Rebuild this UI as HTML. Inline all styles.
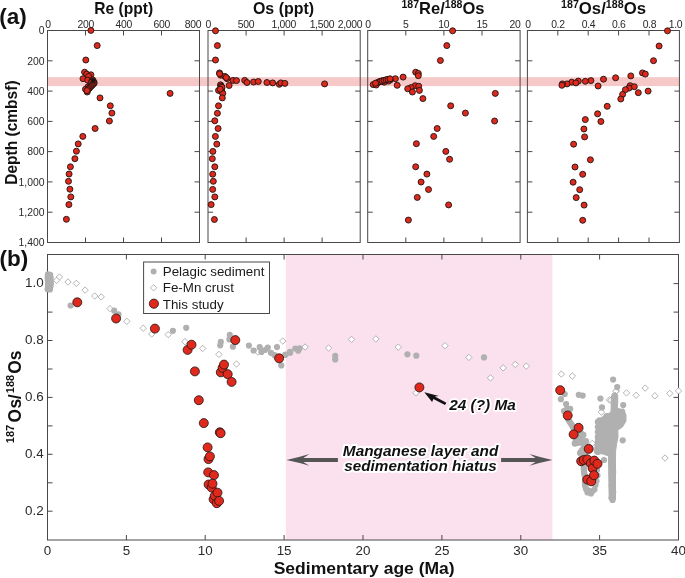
<!DOCTYPE html>
<html><head><meta charset="utf-8"><title>Figure</title>
<style>
html,body{margin:0;padding:0;background:#fff;}
body{width:685px;height:578px;overflow:hidden;}
svg{display:block;font-family:"Liberation Sans",sans-serif;will-change:transform;}
</style></head><body>
<svg width="685" height="578" viewBox="0 0 685 578">
<rect width="685" height="578" fill="#fff"/>
<rect x="47.6" y="77.2" width="631.8" height="8.9" fill="#f6c8c8"/>
<rect x="47.5" y="30.5" width="152.0" height="212.0" fill="none" stroke="#484848" stroke-width="1"/>
<line x1="47.5" y1="60.8" x2="52.5" y2="60.8" stroke="#484848" stroke-width="1"/>
<line x1="199.5" y1="60.8" x2="194.5" y2="60.8" stroke="#484848" stroke-width="1"/>
<line x1="47.5" y1="91.1" x2="52.5" y2="91.1" stroke="#484848" stroke-width="1"/>
<line x1="199.5" y1="91.1" x2="194.5" y2="91.1" stroke="#484848" stroke-width="1"/>
<line x1="47.5" y1="121.4" x2="52.5" y2="121.4" stroke="#484848" stroke-width="1"/>
<line x1="199.5" y1="121.4" x2="194.5" y2="121.4" stroke="#484848" stroke-width="1"/>
<line x1="47.5" y1="151.6" x2="52.5" y2="151.6" stroke="#484848" stroke-width="1"/>
<line x1="199.5" y1="151.6" x2="194.5" y2="151.6" stroke="#484848" stroke-width="1"/>
<line x1="47.5" y1="181.9" x2="52.5" y2="181.9" stroke="#484848" stroke-width="1"/>
<line x1="199.5" y1="181.9" x2="194.5" y2="181.9" stroke="#484848" stroke-width="1"/>
<line x1="47.5" y1="212.2" x2="52.5" y2="212.2" stroke="#484848" stroke-width="1"/>
<line x1="199.5" y1="212.2" x2="194.5" y2="212.2" stroke="#484848" stroke-width="1"/>
<line x1="85.5" y1="30.5" x2="85.5" y2="35.5" stroke="#484848" stroke-width="1"/>
<line x1="85.5" y1="242.5" x2="85.5" y2="237.5" stroke="#484848" stroke-width="1"/>
<line x1="123.5" y1="30.5" x2="123.5" y2="35.5" stroke="#484848" stroke-width="1"/>
<line x1="123.5" y1="242.5" x2="123.5" y2="237.5" stroke="#484848" stroke-width="1"/>
<line x1="161.5" y1="30.5" x2="161.5" y2="35.5" stroke="#484848" stroke-width="1"/>
<line x1="161.5" y1="242.5" x2="161.5" y2="237.5" stroke="#484848" stroke-width="1"/>
<rect x="208.0" y="30.5" width="152.2" height="212.0" fill="none" stroke="#484848" stroke-width="1"/>
<line x1="208.0" y1="60.8" x2="213.0" y2="60.8" stroke="#484848" stroke-width="1"/>
<line x1="360.2" y1="60.8" x2="355.2" y2="60.8" stroke="#484848" stroke-width="1"/>
<line x1="208.0" y1="91.1" x2="213.0" y2="91.1" stroke="#484848" stroke-width="1"/>
<line x1="360.2" y1="91.1" x2="355.2" y2="91.1" stroke="#484848" stroke-width="1"/>
<line x1="208.0" y1="121.4" x2="213.0" y2="121.4" stroke="#484848" stroke-width="1"/>
<line x1="360.2" y1="121.4" x2="355.2" y2="121.4" stroke="#484848" stroke-width="1"/>
<line x1="208.0" y1="151.6" x2="213.0" y2="151.6" stroke="#484848" stroke-width="1"/>
<line x1="360.2" y1="151.6" x2="355.2" y2="151.6" stroke="#484848" stroke-width="1"/>
<line x1="208.0" y1="181.9" x2="213.0" y2="181.9" stroke="#484848" stroke-width="1"/>
<line x1="360.2" y1="181.9" x2="355.2" y2="181.9" stroke="#484848" stroke-width="1"/>
<line x1="208.0" y1="212.2" x2="213.0" y2="212.2" stroke="#484848" stroke-width="1"/>
<line x1="360.2" y1="212.2" x2="355.2" y2="212.2" stroke="#484848" stroke-width="1"/>
<line x1="246.1" y1="30.5" x2="246.1" y2="35.5" stroke="#484848" stroke-width="1"/>
<line x1="246.1" y1="242.5" x2="246.1" y2="237.5" stroke="#484848" stroke-width="1"/>
<line x1="284.1" y1="30.5" x2="284.1" y2="35.5" stroke="#484848" stroke-width="1"/>
<line x1="284.1" y1="242.5" x2="284.1" y2="237.5" stroke="#484848" stroke-width="1"/>
<line x1="322.1" y1="30.5" x2="322.1" y2="35.5" stroke="#484848" stroke-width="1"/>
<line x1="322.1" y1="242.5" x2="322.1" y2="237.5" stroke="#484848" stroke-width="1"/>
<rect x="367.7" y="30.5" width="152.4" height="212.0" fill="none" stroke="#484848" stroke-width="1"/>
<line x1="367.7" y1="60.8" x2="372.7" y2="60.8" stroke="#484848" stroke-width="1"/>
<line x1="520.1" y1="60.8" x2="515.1" y2="60.8" stroke="#484848" stroke-width="1"/>
<line x1="367.7" y1="91.1" x2="372.7" y2="91.1" stroke="#484848" stroke-width="1"/>
<line x1="520.1" y1="91.1" x2="515.1" y2="91.1" stroke="#484848" stroke-width="1"/>
<line x1="367.7" y1="121.4" x2="372.7" y2="121.4" stroke="#484848" stroke-width="1"/>
<line x1="520.1" y1="121.4" x2="515.1" y2="121.4" stroke="#484848" stroke-width="1"/>
<line x1="367.7" y1="151.6" x2="372.7" y2="151.6" stroke="#484848" stroke-width="1"/>
<line x1="520.1" y1="151.6" x2="515.1" y2="151.6" stroke="#484848" stroke-width="1"/>
<line x1="367.7" y1="181.9" x2="372.7" y2="181.9" stroke="#484848" stroke-width="1"/>
<line x1="520.1" y1="181.9" x2="515.1" y2="181.9" stroke="#484848" stroke-width="1"/>
<line x1="367.7" y1="212.2" x2="372.7" y2="212.2" stroke="#484848" stroke-width="1"/>
<line x1="520.1" y1="212.2" x2="515.1" y2="212.2" stroke="#484848" stroke-width="1"/>
<line x1="405.8" y1="30.5" x2="405.8" y2="35.5" stroke="#484848" stroke-width="1"/>
<line x1="405.8" y1="242.5" x2="405.8" y2="237.5" stroke="#484848" stroke-width="1"/>
<line x1="443.9" y1="30.5" x2="443.9" y2="35.5" stroke="#484848" stroke-width="1"/>
<line x1="443.9" y1="242.5" x2="443.9" y2="237.5" stroke="#484848" stroke-width="1"/>
<line x1="482.0" y1="30.5" x2="482.0" y2="35.5" stroke="#484848" stroke-width="1"/>
<line x1="482.0" y1="242.5" x2="482.0" y2="237.5" stroke="#484848" stroke-width="1"/>
<rect x="527.4" y="30.5" width="152.0" height="212.0" fill="none" stroke="#484848" stroke-width="1"/>
<line x1="527.4" y1="60.8" x2="532.4" y2="60.8" stroke="#484848" stroke-width="1"/>
<line x1="679.4" y1="60.8" x2="674.4" y2="60.8" stroke="#484848" stroke-width="1"/>
<line x1="527.4" y1="91.1" x2="532.4" y2="91.1" stroke="#484848" stroke-width="1"/>
<line x1="679.4" y1="91.1" x2="674.4" y2="91.1" stroke="#484848" stroke-width="1"/>
<line x1="527.4" y1="121.4" x2="532.4" y2="121.4" stroke="#484848" stroke-width="1"/>
<line x1="679.4" y1="121.4" x2="674.4" y2="121.4" stroke="#484848" stroke-width="1"/>
<line x1="527.4" y1="151.6" x2="532.4" y2="151.6" stroke="#484848" stroke-width="1"/>
<line x1="679.4" y1="151.6" x2="674.4" y2="151.6" stroke="#484848" stroke-width="1"/>
<line x1="527.4" y1="181.9" x2="532.4" y2="181.9" stroke="#484848" stroke-width="1"/>
<line x1="679.4" y1="181.9" x2="674.4" y2="181.9" stroke="#484848" stroke-width="1"/>
<line x1="527.4" y1="212.2" x2="532.4" y2="212.2" stroke="#484848" stroke-width="1"/>
<line x1="679.4" y1="212.2" x2="674.4" y2="212.2" stroke="#484848" stroke-width="1"/>
<line x1="557.8" y1="30.5" x2="557.8" y2="35.5" stroke="#484848" stroke-width="1"/>
<line x1="557.8" y1="242.5" x2="557.8" y2="237.5" stroke="#484848" stroke-width="1"/>
<line x1="588.2" y1="30.5" x2="588.2" y2="35.5" stroke="#484848" stroke-width="1"/>
<line x1="588.2" y1="242.5" x2="588.2" y2="237.5" stroke="#484848" stroke-width="1"/>
<line x1="618.6" y1="30.5" x2="618.6" y2="35.5" stroke="#484848" stroke-width="1"/>
<line x1="618.6" y1="242.5" x2="618.6" y2="237.5" stroke="#484848" stroke-width="1"/>
<line x1="649.0" y1="30.5" x2="649.0" y2="35.5" stroke="#484848" stroke-width="1"/>
<line x1="649.0" y1="242.5" x2="649.0" y2="237.5" stroke="#484848" stroke-width="1"/>
<text x="47.9" y="27.8" font-size="10.4" text-anchor="middle" fill="#2a2a2a" letter-spacing="-0.3">0</text>
<text x="85.7" y="27.8" font-size="10.4" text-anchor="middle" fill="#2a2a2a" letter-spacing="-0.3">200</text>
<text x="123.8" y="27.8" font-size="10.4" text-anchor="middle" fill="#2a2a2a" letter-spacing="-0.3">400</text>
<text x="161.8" y="27.8" font-size="10.4" text-anchor="middle" fill="#2a2a2a" letter-spacing="-0.3">600</text>
<text x="193.0" y="27.8" font-size="10.4" text-anchor="middle" fill="#2a2a2a" letter-spacing="-0.3">800</text>
<text x="208.3" y="27.8" font-size="10.4" text-anchor="middle" fill="#2a2a2a" letter-spacing="-0.3">0</text>
<text x="245.9" y="27.8" font-size="10.4" text-anchor="middle" fill="#2a2a2a" letter-spacing="-0.3">500</text>
<text x="283.8" y="27.8" font-size="10.4" text-anchor="middle" fill="#2a2a2a" letter-spacing="-0.3">1,000</text>
<text x="321.9" y="27.8" font-size="10.4" text-anchor="middle" fill="#2a2a2a" letter-spacing="-0.3">1,500</text>
<text x="350.0" y="27.8" font-size="10.4" text-anchor="middle" fill="#2a2a2a" letter-spacing="-0.3">2,000</text>
<text x="368.0" y="27.8" font-size="10.4" text-anchor="middle" fill="#2a2a2a" letter-spacing="-0.3">0</text>
<text x="405.8" y="27.8" font-size="10.4" text-anchor="middle" fill="#2a2a2a" letter-spacing="-0.3">5</text>
<text x="443.8" y="27.8" font-size="10.4" text-anchor="middle" fill="#2a2a2a" letter-spacing="-0.3">10</text>
<text x="482.0" y="27.8" font-size="10.4" text-anchor="middle" fill="#2a2a2a" letter-spacing="-0.3">15</text>
<text x="515.0" y="27.8" font-size="10.4" text-anchor="middle" fill="#2a2a2a" letter-spacing="-0.3">20</text>
<text x="528.0" y="27.8" font-size="10.4" text-anchor="middle" fill="#2a2a2a" letter-spacing="-0.3">0</text>
<text x="557.9" y="27.8" font-size="10.4" text-anchor="middle" fill="#2a2a2a" letter-spacing="-0.3">0.2</text>
<text x="588.5" y="27.8" font-size="10.4" text-anchor="middle" fill="#2a2a2a" letter-spacing="-0.3">0.4</text>
<text x="618.8" y="27.8" font-size="10.4" text-anchor="middle" fill="#2a2a2a" letter-spacing="-0.3">0.6</text>
<text x="649.4" y="27.8" font-size="10.4" text-anchor="middle" fill="#2a2a2a" letter-spacing="-0.3">0.8</text>
<text x="675.5" y="27.8" font-size="10.4" text-anchor="middle" fill="#2a2a2a" letter-spacing="-0.3">1.0</text>
<text x="44.5" y="34.2" font-size="10.4" text-anchor="end" fill="#2a2a2a">0</text>
<text x="44.5" y="64.5" font-size="10.4" text-anchor="end" fill="#2a2a2a">200</text>
<text x="44.5" y="94.8" font-size="10.4" text-anchor="end" fill="#2a2a2a">400</text>
<text x="44.5" y="125.1" font-size="10.4" text-anchor="end" fill="#2a2a2a">600</text>
<text x="44.5" y="155.3" font-size="10.4" text-anchor="end" fill="#2a2a2a">800</text>
<text x="44.5" y="185.6" font-size="10.4" text-anchor="end" fill="#2a2a2a">1,000</text>
<text x="44.5" y="215.9" font-size="10.4" text-anchor="end" fill="#2a2a2a">1,200</text>
<text x="44.5" y="246.2" font-size="10.4" text-anchor="end" fill="#2a2a2a">1,400</text>
<text x="123.7" y="13.9" font-size="16.3" font-weight="bold" text-anchor="middle" fill="#111" textLength="58.8" lengthAdjust="spacingAndGlyphs"><tspan dy="0">Re (ppt)</tspan></text>
<text x="283.5" y="13.9" font-size="16.3" font-weight="bold" text-anchor="middle" fill="#111" textLength="61.2" lengthAdjust="spacingAndGlyphs"><tspan dy="0">Os (ppt)</tspan></text>
<text x="443.0" y="13.9" font-size="16.3" font-weight="bold" text-anchor="middle" fill="#111" textLength="83" lengthAdjust="spacingAndGlyphs"><tspan font-size="10.4" dy="-5.6">187</tspan><tspan dy="5.6">Re/</tspan><tspan font-size="10.4" dy="-5.6">188</tspan><tspan dy="5.6">Os</tspan></text>
<text x="603.5" y="13.9" font-size="16.3" font-weight="bold" text-anchor="middle" fill="#111" textLength="85" lengthAdjust="spacingAndGlyphs"><tspan font-size="10.4" dy="-5.6">187</tspan><tspan dy="5.6">Os/</tspan><tspan font-size="10.4" dy="-5.6">188</tspan><tspan dy="5.6">Os</tspan></text>
<text x="-0.8" y="23.6" font-size="22.5" font-weight="bold" fill="#111">(a)</text>
<text transform="translate(17.3,132.6) rotate(-90)" font-size="16.3" font-weight="bold" text-anchor="middle" fill="#111" textLength="104.3" lengthAdjust="spacingAndGlyphs">Depth (cmbsf)</text>
<circle cx="90.9" cy="30.4" r="3.0" fill="#e0291d" stroke="#1c1412" stroke-width="0.9"/>
<circle cx="97.2" cy="45.6" r="3.0" fill="#e0291d" stroke="#1c1412" stroke-width="0.9"/>
<circle cx="85.8" cy="60.0" r="3.0" fill="#e0291d" stroke="#1c1412" stroke-width="0.9"/>
<circle cx="84.6" cy="72.2" r="3.0" fill="#e0291d" stroke="#1c1412" stroke-width="0.9"/>
<circle cx="86.7" cy="74.1" r="3.0" fill="#e0291d" stroke="#1c1412" stroke-width="0.9"/>
<circle cx="90.9" cy="74.8" r="3.0" fill="#e0291d" stroke="#1c1412" stroke-width="0.9"/>
<circle cx="88.6" cy="76.4" r="3.0" fill="#e0291d" stroke="#1c1412" stroke-width="0.9"/>
<circle cx="83.0" cy="78.7" r="3.0" fill="#e0291d" stroke="#1c1412" stroke-width="0.9"/>
<circle cx="87.7" cy="80.1" r="3.0" fill="#e0291d" stroke="#1c1412" stroke-width="0.9"/>
<circle cx="91.9" cy="81.1" r="3.0" fill="#e0291d" stroke="#1c1412" stroke-width="0.9"/>
<circle cx="92.5" cy="82.0" r="3.0" fill="#e0291d" stroke="#1c1412" stroke-width="0.9"/>
<circle cx="93.7" cy="82.9" r="3.0" fill="#e0291d" stroke="#1c1412" stroke-width="0.9"/>
<circle cx="92.8" cy="80.0" r="3.0" fill="#e0291d" stroke="#1c1412" stroke-width="0.9"/>
<circle cx="89.8" cy="85.3" r="3.0" fill="#e0291d" stroke="#1c1412" stroke-width="0.9"/>
<circle cx="87.9" cy="86.9" r="3.0" fill="#e0291d" stroke="#1c1412" stroke-width="0.9"/>
<circle cx="85.5" cy="89.2" r="3.0" fill="#e0291d" stroke="#1c1412" stroke-width="0.9"/>
<circle cx="87.2" cy="92.0" r="3.0" fill="#e0291d" stroke="#1c1412" stroke-width="0.9"/>
<circle cx="170.1" cy="93.4" r="3.0" fill="#e0291d" stroke="#1c1412" stroke-width="0.9"/>
<circle cx="100.0" cy="97.9" r="3.0" fill="#e0291d" stroke="#1c1412" stroke-width="0.9"/>
<circle cx="110.3" cy="105.8" r="3.0" fill="#e0291d" stroke="#1c1412" stroke-width="0.9"/>
<circle cx="111.9" cy="113.1" r="3.0" fill="#e0291d" stroke="#1c1412" stroke-width="0.9"/>
<circle cx="109.4" cy="121.0" r="3.0" fill="#e0291d" stroke="#1c1412" stroke-width="0.9"/>
<circle cx="95.1" cy="128.5" r="3.0" fill="#e0291d" stroke="#1c1412" stroke-width="0.9"/>
<circle cx="82.8" cy="136.4" r="3.0" fill="#e0291d" stroke="#1c1412" stroke-width="0.9"/>
<circle cx="78.2" cy="143.9" r="3.0" fill="#e0291d" stroke="#1c1412" stroke-width="0.9"/>
<circle cx="76.4" cy="151.2" r="3.0" fill="#e0291d" stroke="#1c1412" stroke-width="0.9"/>
<circle cx="74.9" cy="158.7" r="3.0" fill="#e0291d" stroke="#1c1412" stroke-width="0.9"/>
<circle cx="70.4" cy="166.8" r="3.0" fill="#e0291d" stroke="#1c1412" stroke-width="0.9"/>
<circle cx="69.1" cy="174.0" r="3.0" fill="#e0291d" stroke="#1c1412" stroke-width="0.9"/>
<circle cx="68.5" cy="181.3" r="3.0" fill="#e0291d" stroke="#1c1412" stroke-width="0.9"/>
<circle cx="69.9" cy="189.2" r="3.0" fill="#e0291d" stroke="#1c1412" stroke-width="0.9"/>
<circle cx="70.8" cy="196.9" r="3.0" fill="#e0291d" stroke="#1c1412" stroke-width="0.9"/>
<circle cx="68.9" cy="204.6" r="3.0" fill="#e0291d" stroke="#1c1412" stroke-width="0.9"/>
<circle cx="66.4" cy="219.3" r="3.0" fill="#e0291d" stroke="#1c1412" stroke-width="0.9"/>
<circle cx="92.5" cy="81.5" r="3.0" fill="#e0291d" stroke="#1c1412" stroke-width="0.9"/>
<circle cx="93.0" cy="82.6" r="3.0" fill="#e0291d" stroke="#1c1412" stroke-width="0.9"/>
<circle cx="93.6" cy="83.2" r="3.0" fill="#e0291d" stroke="#1c1412" stroke-width="0.9"/>
<circle cx="91.6" cy="82.2" r="3.0" fill="#e0291d" stroke="#1c1412" stroke-width="0.9"/>
<circle cx="93.8" cy="81.9" r="3.0" fill="#e0291d" stroke="#1c1412" stroke-width="0.9"/>
<circle cx="94.2" cy="83.0" r="3.0" fill="#e0291d" stroke="#1c1412" stroke-width="0.9"/>
<circle cx="93.3" cy="84.0" r="3.0" fill="#e0291d" stroke="#1c1412" stroke-width="0.9"/>
<circle cx="92.4" cy="84.9" r="3.0" fill="#e0291d" stroke="#1c1412" stroke-width="0.9"/>
<circle cx="91.5" cy="85.8" r="3.0" fill="#e0291d" stroke="#1c1412" stroke-width="0.9"/>
<circle cx="90.6" cy="86.8" r="3.0" fill="#e0291d" stroke="#1c1412" stroke-width="0.9"/>
<circle cx="89.7" cy="87.8" r="3.0" fill="#e0291d" stroke="#1c1412" stroke-width="0.9"/>
<circle cx="88.8" cy="88.7" r="3.0" fill="#e0291d" stroke="#1c1412" stroke-width="0.9"/>
<circle cx="87.9" cy="89.7" r="3.0" fill="#e0291d" stroke="#1c1412" stroke-width="0.9"/>
<circle cx="87.0" cy="90.6" r="3.0" fill="#e0291d" stroke="#1c1412" stroke-width="0.9"/>
<circle cx="215.5" cy="30.8" r="3.0" fill="#e0291d" stroke="#1c1412" stroke-width="0.9"/>
<circle cx="217.4" cy="45.6" r="3.0" fill="#e0291d" stroke="#1c1412" stroke-width="0.9"/>
<circle cx="215.5" cy="60.0" r="3.0" fill="#e0291d" stroke="#1c1412" stroke-width="0.9"/>
<circle cx="219.5" cy="72.9" r="3.0" fill="#e0291d" stroke="#1c1412" stroke-width="0.9"/>
<circle cx="220.7" cy="75.2" r="3.0" fill="#e0291d" stroke="#1c1412" stroke-width="0.9"/>
<circle cx="224.9" cy="76.4" r="3.0" fill="#e0291d" stroke="#1c1412" stroke-width="0.9"/>
<circle cx="227.2" cy="78.7" r="3.0" fill="#e0291d" stroke="#1c1412" stroke-width="0.9"/>
<circle cx="233.0" cy="80.4" r="3.0" fill="#e0291d" stroke="#1c1412" stroke-width="0.9"/>
<circle cx="236.5" cy="80.6" r="3.0" fill="#e0291d" stroke="#1c1412" stroke-width="0.9"/>
<circle cx="244.7" cy="80.4" r="3.0" fill="#e0291d" stroke="#1c1412" stroke-width="0.9"/>
<circle cx="247.0" cy="82.5" r="3.0" fill="#e0291d" stroke="#1c1412" stroke-width="0.9"/>
<circle cx="253.6" cy="82.0" r="3.0" fill="#e0291d" stroke="#1c1412" stroke-width="0.9"/>
<circle cx="258.3" cy="81.5" r="3.0" fill="#e0291d" stroke="#1c1412" stroke-width="0.9"/>
<circle cx="266.9" cy="82.5" r="3.0" fill="#e0291d" stroke="#1c1412" stroke-width="0.9"/>
<circle cx="272.7" cy="82.9" r="3.0" fill="#e0291d" stroke="#1c1412" stroke-width="0.9"/>
<circle cx="279.3" cy="84.3" r="3.0" fill="#e0291d" stroke="#1c1412" stroke-width="0.9"/>
<circle cx="280.9" cy="82.9" r="3.0" fill="#e0291d" stroke="#1c1412" stroke-width="0.9"/>
<circle cx="284.9" cy="83.4" r="3.0" fill="#e0291d" stroke="#1c1412" stroke-width="0.9"/>
<circle cx="324.6" cy="83.9" r="3.0" fill="#e0291d" stroke="#1c1412" stroke-width="0.9"/>
<circle cx="229.1" cy="85.5" r="3.0" fill="#e0291d" stroke="#1c1412" stroke-width="0.9"/>
<circle cx="220.9" cy="85.7" r="3.0" fill="#e0291d" stroke="#1c1412" stroke-width="0.9"/>
<circle cx="221.8" cy="88.1" r="3.0" fill="#e0291d" stroke="#1c1412" stroke-width="0.9"/>
<circle cx="218.5" cy="90.4" r="3.0" fill="#e0291d" stroke="#1c1412" stroke-width="0.9"/>
<circle cx="221.8" cy="91.6" r="3.0" fill="#e0291d" stroke="#1c1412" stroke-width="0.9"/>
<circle cx="222.8" cy="93.4" r="3.0" fill="#e0291d" stroke="#1c1412" stroke-width="0.9"/>
<circle cx="222.3" cy="97.9" r="3.0" fill="#e0291d" stroke="#1c1412" stroke-width="0.9"/>
<circle cx="218.5" cy="105.8" r="3.0" fill="#e0291d" stroke="#1c1412" stroke-width="0.9"/>
<circle cx="217.4" cy="113.3" r="3.0" fill="#e0291d" stroke="#1c1412" stroke-width="0.9"/>
<circle cx="214.8" cy="120.8" r="3.0" fill="#e0291d" stroke="#1c1412" stroke-width="0.9"/>
<circle cx="218.1" cy="128.5" r="3.0" fill="#e0291d" stroke="#1c1412" stroke-width="0.9"/>
<circle cx="215.4" cy="136.4" r="3.0" fill="#e0291d" stroke="#1c1412" stroke-width="0.9"/>
<circle cx="216.8" cy="144.1" r="3.0" fill="#e0291d" stroke="#1c1412" stroke-width="0.9"/>
<circle cx="212.9" cy="151.4" r="3.0" fill="#e0291d" stroke="#1c1412" stroke-width="0.9"/>
<circle cx="212.3" cy="158.7" r="3.0" fill="#e0291d" stroke="#1c1412" stroke-width="0.9"/>
<circle cx="214.8" cy="166.8" r="3.0" fill="#e0291d" stroke="#1c1412" stroke-width="0.9"/>
<circle cx="212.7" cy="174.2" r="3.0" fill="#e0291d" stroke="#1c1412" stroke-width="0.9"/>
<circle cx="213.3" cy="181.3" r="3.0" fill="#e0291d" stroke="#1c1412" stroke-width="0.9"/>
<circle cx="212.7" cy="189.4" r="3.0" fill="#e0291d" stroke="#1c1412" stroke-width="0.9"/>
<circle cx="214.8" cy="196.9" r="3.0" fill="#e0291d" stroke="#1c1412" stroke-width="0.9"/>
<circle cx="211.2" cy="204.6" r="3.0" fill="#e0291d" stroke="#1c1412" stroke-width="0.9"/>
<circle cx="214.4" cy="219.5" r="3.0" fill="#e0291d" stroke="#1c1412" stroke-width="0.9"/>
<circle cx="220.5" cy="84.8" r="3.0" fill="#e0291d" stroke="#1c1412" stroke-width="0.9"/>
<circle cx="221.2" cy="86.2" r="3.0" fill="#e0291d" stroke="#1c1412" stroke-width="0.9"/>
<circle cx="222.0" cy="87.3" r="3.0" fill="#e0291d" stroke="#1c1412" stroke-width="0.9"/>
<circle cx="220.2" cy="89.2" r="3.0" fill="#e0291d" stroke="#1c1412" stroke-width="0.9"/>
<circle cx="219.6" cy="73.8" r="3.0" fill="#e0291d" stroke="#1c1412" stroke-width="0.9"/>
<circle cx="226.2" cy="77.5" r="3.0" fill="#e0291d" stroke="#1c1412" stroke-width="0.9"/>
<circle cx="452.6" cy="30.8" r="3.0" fill="#e0291d" stroke="#1c1412" stroke-width="0.9"/>
<circle cx="446.8" cy="45.6" r="3.0" fill="#e0291d" stroke="#1c1412" stroke-width="0.9"/>
<circle cx="440.4" cy="60.5" r="3.0" fill="#e0291d" stroke="#1c1412" stroke-width="0.9"/>
<circle cx="415.7" cy="72.2" r="3.0" fill="#e0291d" stroke="#1c1412" stroke-width="0.9"/>
<circle cx="418.3" cy="73.4" r="3.0" fill="#e0291d" stroke="#1c1412" stroke-width="0.9"/>
<circle cx="418.3" cy="75.7" r="3.0" fill="#e0291d" stroke="#1c1412" stroke-width="0.9"/>
<circle cx="403.1" cy="77.1" r="3.0" fill="#e0291d" stroke="#1c1412" stroke-width="0.9"/>
<circle cx="395.4" cy="78.7" r="3.0" fill="#e0291d" stroke="#1c1412" stroke-width="0.9"/>
<circle cx="390.2" cy="79.9" r="3.0" fill="#e0291d" stroke="#1c1412" stroke-width="0.9"/>
<circle cx="388.4" cy="81.1" r="3.0" fill="#e0291d" stroke="#1c1412" stroke-width="0.9"/>
<circle cx="384.2" cy="82.2" r="3.0" fill="#e0291d" stroke="#1c1412" stroke-width="0.9"/>
<circle cx="381.4" cy="81.1" r="3.0" fill="#e0291d" stroke="#1c1412" stroke-width="0.9"/>
<circle cx="379.0" cy="81.8" r="3.0" fill="#e0291d" stroke="#1c1412" stroke-width="0.9"/>
<circle cx="376.7" cy="83.4" r="3.0" fill="#e0291d" stroke="#1c1412" stroke-width="0.9"/>
<circle cx="373.2" cy="84.6" r="3.0" fill="#e0291d" stroke="#1c1412" stroke-width="0.9"/>
<circle cx="376.2" cy="85.0" r="3.0" fill="#e0291d" stroke="#1c1412" stroke-width="0.9"/>
<circle cx="397.2" cy="85.3" r="3.0" fill="#e0291d" stroke="#1c1412" stroke-width="0.9"/>
<circle cx="415.2" cy="85.7" r="3.0" fill="#e0291d" stroke="#1c1412" stroke-width="0.9"/>
<circle cx="418.7" cy="86.2" r="3.0" fill="#e0291d" stroke="#1c1412" stroke-width="0.9"/>
<circle cx="411.0" cy="87.6" r="3.0" fill="#e0291d" stroke="#1c1412" stroke-width="0.9"/>
<circle cx="407.7" cy="88.8" r="3.0" fill="#e0291d" stroke="#1c1412" stroke-width="0.9"/>
<circle cx="419.4" cy="90.4" r="3.0" fill="#e0291d" stroke="#1c1412" stroke-width="0.9"/>
<circle cx="412.4" cy="92.0" r="3.0" fill="#e0291d" stroke="#1c1412" stroke-width="0.9"/>
<circle cx="495.3" cy="93.4" r="3.0" fill="#e0291d" stroke="#1c1412" stroke-width="0.9"/>
<circle cx="422.9" cy="98.6" r="3.0" fill="#e0291d" stroke="#1c1412" stroke-width="0.9"/>
<circle cx="450.7" cy="105.8" r="3.0" fill="#e0291d" stroke="#1c1412" stroke-width="0.9"/>
<circle cx="465.4" cy="113.1" r="3.0" fill="#e0291d" stroke="#1c1412" stroke-width="0.9"/>
<circle cx="494.6" cy="121.0" r="3.0" fill="#e0291d" stroke="#1c1412" stroke-width="0.9"/>
<circle cx="437.2" cy="128.5" r="3.0" fill="#e0291d" stroke="#1c1412" stroke-width="0.9"/>
<circle cx="433.7" cy="136.4" r="3.0" fill="#e0291d" stroke="#1c1412" stroke-width="0.9"/>
<circle cx="416.4" cy="143.7" r="3.0" fill="#e0291d" stroke="#1c1412" stroke-width="0.9"/>
<circle cx="445.8" cy="151.4" r="3.0" fill="#e0291d" stroke="#1c1412" stroke-width="0.9"/>
<circle cx="449.6" cy="159.3" r="3.0" fill="#e0291d" stroke="#1c1412" stroke-width="0.9"/>
<circle cx="415.7" cy="166.8" r="3.0" fill="#e0291d" stroke="#1c1412" stroke-width="0.9"/>
<circle cx="426.9" cy="174.1" r="3.0" fill="#e0291d" stroke="#1c1412" stroke-width="0.9"/>
<circle cx="421.1" cy="182.0" r="3.0" fill="#e0291d" stroke="#1c1412" stroke-width="0.9"/>
<circle cx="428.5" cy="189.5" r="3.0" fill="#e0291d" stroke="#1c1412" stroke-width="0.9"/>
<circle cx="417.3" cy="197.4" r="3.0" fill="#e0291d" stroke="#1c1412" stroke-width="0.9"/>
<circle cx="448.6" cy="204.9" r="3.0" fill="#e0291d" stroke="#1c1412" stroke-width="0.9"/>
<circle cx="408.4" cy="220.1" r="3.0" fill="#e0291d" stroke="#1c1412" stroke-width="0.9"/>
<circle cx="378.0" cy="82.4" r="3.0" fill="#e0291d" stroke="#1c1412" stroke-width="0.9"/>
<circle cx="380.0" cy="81.6" r="3.0" fill="#e0291d" stroke="#1c1412" stroke-width="0.9"/>
<circle cx="382.0" cy="80.9" r="3.0" fill="#e0291d" stroke="#1c1412" stroke-width="0.9"/>
<circle cx="384.0" cy="80.3" r="3.0" fill="#e0291d" stroke="#1c1412" stroke-width="0.9"/>
<circle cx="386.0" cy="79.8" r="3.0" fill="#e0291d" stroke="#1c1412" stroke-width="0.9"/>
<circle cx="388.0" cy="79.3" r="3.0" fill="#e0291d" stroke="#1c1412" stroke-width="0.9"/>
<circle cx="390.0" cy="78.8" r="3.0" fill="#e0291d" stroke="#1c1412" stroke-width="0.9"/>
<circle cx="375.5" cy="83.2" r="3.0" fill="#e0291d" stroke="#1c1412" stroke-width="0.9"/>
<circle cx="667.5" cy="30.8" r="3.0" fill="#e0291d" stroke="#1c1412" stroke-width="0.9"/>
<circle cx="659.1" cy="46.0" r="3.0" fill="#e0291d" stroke="#1c1412" stroke-width="0.9"/>
<circle cx="653.5" cy="60.7" r="3.0" fill="#e0291d" stroke="#1c1412" stroke-width="0.9"/>
<circle cx="642.5" cy="72.9" r="3.0" fill="#e0291d" stroke="#1c1412" stroke-width="0.9"/>
<circle cx="645.3" cy="74.1" r="3.0" fill="#e0291d" stroke="#1c1412" stroke-width="0.9"/>
<circle cx="630.8" cy="75.9" r="3.0" fill="#e0291d" stroke="#1c1412" stroke-width="0.9"/>
<circle cx="615.6" cy="77.8" r="3.0" fill="#e0291d" stroke="#1c1412" stroke-width="0.9"/>
<circle cx="603.5" cy="79.2" r="3.0" fill="#e0291d" stroke="#1c1412" stroke-width="0.9"/>
<circle cx="590.9" cy="80.6" r="3.0" fill="#e0291d" stroke="#1c1412" stroke-width="0.9"/>
<circle cx="585.3" cy="81.3" r="3.0" fill="#e0291d" stroke="#1c1412" stroke-width="0.9"/>
<circle cx="578.3" cy="81.1" r="3.0" fill="#e0291d" stroke="#1c1412" stroke-width="0.9"/>
<circle cx="571.7" cy="82.2" r="3.0" fill="#e0291d" stroke="#1c1412" stroke-width="0.9"/>
<circle cx="575.9" cy="82.9" r="3.0" fill="#e0291d" stroke="#1c1412" stroke-width="0.9"/>
<circle cx="567.0" cy="83.9" r="3.0" fill="#e0291d" stroke="#1c1412" stroke-width="0.9"/>
<circle cx="562.4" cy="83.9" r="3.0" fill="#e0291d" stroke="#1c1412" stroke-width="0.9"/>
<circle cx="561.9" cy="85.3" r="3.0" fill="#e0291d" stroke="#1c1412" stroke-width="0.9"/>
<circle cx="598.1" cy="86.0" r="3.0" fill="#e0291d" stroke="#1c1412" stroke-width="0.9"/>
<circle cx="630.1" cy="85.7" r="3.0" fill="#e0291d" stroke="#1c1412" stroke-width="0.9"/>
<circle cx="634.3" cy="86.7" r="3.0" fill="#e0291d" stroke="#1c1412" stroke-width="0.9"/>
<circle cx="629.0" cy="88.1" r="3.0" fill="#e0291d" stroke="#1c1412" stroke-width="0.9"/>
<circle cx="625.4" cy="89.7" r="3.0" fill="#e0291d" stroke="#1c1412" stroke-width="0.9"/>
<circle cx="648.1" cy="91.1" r="3.0" fill="#e0291d" stroke="#1c1412" stroke-width="0.9"/>
<circle cx="638.3" cy="92.7" r="3.0" fill="#e0291d" stroke="#1c1412" stroke-width="0.9"/>
<circle cx="622.6" cy="94.4" r="3.0" fill="#e0291d" stroke="#1c1412" stroke-width="0.9"/>
<circle cx="620.8" cy="99.0" r="3.0" fill="#e0291d" stroke="#1c1412" stroke-width="0.9"/>
<circle cx="607.2" cy="106.3" r="3.0" fill="#e0291d" stroke="#1c1412" stroke-width="0.9"/>
<circle cx="597.6" cy="113.8" r="3.0" fill="#e0291d" stroke="#1c1412" stroke-width="0.9"/>
<circle cx="600.9" cy="121.5" r="3.0" fill="#e0291d" stroke="#1c1412" stroke-width="0.9"/>
<circle cx="585.3" cy="119.6" r="3.0" fill="#e0291d" stroke="#1c1412" stroke-width="0.9"/>
<circle cx="583.9" cy="129.0" r="3.0" fill="#e0291d" stroke="#1c1412" stroke-width="0.9"/>
<circle cx="584.6" cy="136.9" r="3.0" fill="#e0291d" stroke="#1c1412" stroke-width="0.9"/>
<circle cx="573.6" cy="144.2" r="3.0" fill="#e0291d" stroke="#1c1412" stroke-width="0.9"/>
<circle cx="590.4" cy="159.8" r="3.0" fill="#e0291d" stroke="#1c1412" stroke-width="0.9"/>
<circle cx="575.0" cy="167.0" r="3.0" fill="#e0291d" stroke="#1c1412" stroke-width="0.9"/>
<circle cx="582.7" cy="174.3" r="3.0" fill="#e0291d" stroke="#1c1412" stroke-width="0.9"/>
<circle cx="573.1" cy="182.2" r="3.0" fill="#e0291d" stroke="#1c1412" stroke-width="0.9"/>
<circle cx="579.7" cy="189.7" r="3.0" fill="#e0291d" stroke="#1c1412" stroke-width="0.9"/>
<circle cx="576.2" cy="197.6" r="3.0" fill="#e0291d" stroke="#1c1412" stroke-width="0.9"/>
<circle cx="584.1" cy="205.1" r="3.0" fill="#e0291d" stroke="#1c1412" stroke-width="0.9"/>
<circle cx="582.7" cy="220.3" r="3.0" fill="#e0291d" stroke="#1c1412" stroke-width="0.9"/>
<ellipse cx="93.2" cy="80.6" rx="2.1" ry="2.4" fill="#1a1412" opacity="0.9"/>
<rect x="285.8" y="254.5" width="266.7" height="285.5" fill="#fbe1ed"/>
<rect x="47.5" y="254.5" width="631.0" height="285.5" fill="none" stroke="#484848" stroke-width="1"/>
<line x1="126.4" y1="254.5" x2="126.4" y2="259.5" stroke="#484848" stroke-width="1"/>
<line x1="126.4" y1="540.0" x2="126.4" y2="535.0" stroke="#484848" stroke-width="1"/>
<line x1="205.2" y1="254.5" x2="205.2" y2="259.5" stroke="#484848" stroke-width="1"/>
<line x1="205.2" y1="540.0" x2="205.2" y2="535.0" stroke="#484848" stroke-width="1"/>
<line x1="284.1" y1="254.5" x2="284.1" y2="259.5" stroke="#484848" stroke-width="1"/>
<line x1="284.1" y1="540.0" x2="284.1" y2="535.0" stroke="#484848" stroke-width="1"/>
<line x1="363.0" y1="254.5" x2="363.0" y2="259.5" stroke="#484848" stroke-width="1"/>
<line x1="363.0" y1="540.0" x2="363.0" y2="535.0" stroke="#484848" stroke-width="1"/>
<line x1="441.9" y1="254.5" x2="441.9" y2="259.5" stroke="#484848" stroke-width="1"/>
<line x1="441.9" y1="540.0" x2="441.9" y2="535.0" stroke="#484848" stroke-width="1"/>
<line x1="520.8" y1="254.5" x2="520.8" y2="259.5" stroke="#484848" stroke-width="1"/>
<line x1="520.8" y1="540.0" x2="520.8" y2="535.0" stroke="#484848" stroke-width="1"/>
<line x1="599.6" y1="254.5" x2="599.6" y2="259.5" stroke="#484848" stroke-width="1"/>
<line x1="599.6" y1="540.0" x2="599.6" y2="535.0" stroke="#484848" stroke-width="1"/>
<line x1="47.5" y1="511.2" x2="52.5" y2="511.2" stroke="#484848" stroke-width="1"/>
<line x1="678.5" y1="511.2" x2="673.5" y2="511.2" stroke="#484848" stroke-width="1"/>
<line x1="47.5" y1="482.8" x2="52.5" y2="482.8" stroke="#484848" stroke-width="1"/>
<line x1="678.5" y1="482.8" x2="673.5" y2="482.8" stroke="#484848" stroke-width="1"/>
<line x1="47.5" y1="454.3" x2="52.5" y2="454.3" stroke="#484848" stroke-width="1"/>
<line x1="678.5" y1="454.3" x2="673.5" y2="454.3" stroke="#484848" stroke-width="1"/>
<line x1="47.5" y1="425.9" x2="52.5" y2="425.9" stroke="#484848" stroke-width="1"/>
<line x1="678.5" y1="425.9" x2="673.5" y2="425.9" stroke="#484848" stroke-width="1"/>
<line x1="47.5" y1="397.4" x2="52.5" y2="397.4" stroke="#484848" stroke-width="1"/>
<line x1="678.5" y1="397.4" x2="673.5" y2="397.4" stroke="#484848" stroke-width="1"/>
<line x1="47.5" y1="369.0" x2="52.5" y2="369.0" stroke="#484848" stroke-width="1"/>
<line x1="678.5" y1="369.0" x2="673.5" y2="369.0" stroke="#484848" stroke-width="1"/>
<line x1="47.5" y1="340.5" x2="52.5" y2="340.5" stroke="#484848" stroke-width="1"/>
<line x1="678.5" y1="340.5" x2="673.5" y2="340.5" stroke="#484848" stroke-width="1"/>
<line x1="47.5" y1="312.1" x2="52.5" y2="312.1" stroke="#484848" stroke-width="1"/>
<line x1="678.5" y1="312.1" x2="673.5" y2="312.1" stroke="#484848" stroke-width="1"/>
<line x1="47.5" y1="283.6" x2="52.5" y2="283.6" stroke="#484848" stroke-width="1"/>
<line x1="678.5" y1="283.6" x2="673.5" y2="283.6" stroke="#484848" stroke-width="1"/>
<path d="M59.4 273.8L62.6 277.0L59.4 280.2L56.2 277.0Z" fill="#fff" stroke="#a2a2a2" stroke-width="0.8"/>
<path d="M56.6 277.2L59.8 280.4L56.6 283.6L53.4 280.4Z" fill="#fff" stroke="#a2a2a2" stroke-width="0.8"/>
<path d="M68.0 278.8L71.2 282.0L68.0 285.2L64.8 282.0Z" fill="#fff" stroke="#a2a2a2" stroke-width="0.8"/>
<path d="M76.3 280.2L79.5 283.4L76.3 286.6L73.1 283.4Z" fill="#fff" stroke="#a2a2a2" stroke-width="0.8"/>
<path d="M85.1 286.9L88.3 290.1L85.1 293.3L81.9 290.1Z" fill="#fff" stroke="#a2a2a2" stroke-width="0.8"/>
<path d="M94.7 292.8L97.9 296.0L94.7 299.2L91.5 296.0Z" fill="#fff" stroke="#a2a2a2" stroke-width="0.8"/>
<path d="M101.2 293.7L104.4 296.9L101.2 300.1L98.0 296.9Z" fill="#fff" stroke="#a2a2a2" stroke-width="0.8"/>
<path d="M110.0 305.4L113.2 308.6L110.0 311.8L106.8 308.6Z" fill="#fff" stroke="#a2a2a2" stroke-width="0.8"/>
<path d="M126.8 318.1L130.0 321.3L126.8 324.5L123.6 321.3Z" fill="#fff" stroke="#a2a2a2" stroke-width="0.8"/>
<path d="M143.2 325.0L146.4 328.2L143.2 331.4L140.0 328.2Z" fill="#fff" stroke="#a2a2a2" stroke-width="0.8"/>
<path d="M151.7 330.8L154.9 334.0L151.7 337.2L148.5 334.0Z" fill="#fff" stroke="#a2a2a2" stroke-width="0.8"/>
<path d="M168.2 331.4L171.4 334.6L168.2 337.8L165.0 334.6Z" fill="#fff" stroke="#a2a2a2" stroke-width="0.8"/>
<path d="M184.9 338.5L188.1 341.7L184.9 344.9L181.7 341.7Z" fill="#fff" stroke="#a2a2a2" stroke-width="0.8"/>
<path d="M202.7 345.2L205.9 348.4L202.7 351.6L199.5 348.4Z" fill="#fff" stroke="#a2a2a2" stroke-width="0.8"/>
<path d="M218.9 351.2L222.1 354.4L218.9 357.6L215.7 354.4Z" fill="#fff" stroke="#a2a2a2" stroke-width="0.8"/>
<path d="M236.5 360.8L239.7 364.0L236.5 367.2L233.3 364.0Z" fill="#fff" stroke="#a2a2a2" stroke-width="0.8"/>
<path d="M258.0 348.8L261.2 352.0L258.0 355.2L254.8 352.0Z" fill="#fff" stroke="#a2a2a2" stroke-width="0.8"/>
<path d="M282.8 337.8L286.0 341.0L282.8 344.2L279.6 341.0Z" fill="#fff" stroke="#a2a2a2" stroke-width="0.8"/>
<path d="M305.1 343.8L308.3 347.0L305.1 350.2L301.9 347.0Z" fill="#fff" stroke="#a2a2a2" stroke-width="0.8"/>
<path d="M328.6 344.8L331.8 348.0L328.6 351.2L325.4 348.0Z" fill="#fff" stroke="#a2a2a2" stroke-width="0.8"/>
<path d="M351.5 336.2L354.7 339.4L351.5 342.6L348.3 339.4Z" fill="#fff" stroke="#a2a2a2" stroke-width="0.8"/>
<path d="M375.9 335.7L379.1 338.9L375.9 342.1L372.7 338.9Z" fill="#fff" stroke="#a2a2a2" stroke-width="0.8"/>
<path d="M398.3 343.9L401.5 347.1L398.3 350.3L395.1 347.1Z" fill="#fff" stroke="#a2a2a2" stroke-width="0.8"/>
<path d="M445.0 342.5L448.2 345.7L445.0 348.9L441.8 345.7Z" fill="#fff" stroke="#a2a2a2" stroke-width="0.8"/>
<path d="M468.8 354.2L472.0 357.4L468.8 360.6L465.6 357.4Z" fill="#fff" stroke="#a2a2a2" stroke-width="0.8"/>
<path d="M490.5 374.7L493.7 377.9L490.5 381.1L487.3 377.9Z" fill="#fff" stroke="#a2a2a2" stroke-width="0.8"/>
<path d="M503.1 364.7L506.3 367.9L503.1 371.1L499.9 367.9Z" fill="#fff" stroke="#a2a2a2" stroke-width="0.8"/>
<path d="M515.3 361.2L518.5 364.4L515.3 367.6L512.1 364.4Z" fill="#fff" stroke="#a2a2a2" stroke-width="0.8"/>
<path d="M526.3 362.9L529.5 366.1L526.3 369.3L523.1 366.1Z" fill="#fff" stroke="#a2a2a2" stroke-width="0.8"/>
<path d="M416.0 389.7L419.2 392.9L416.0 396.1L412.8 392.9Z" fill="#fff" stroke="#a2a2a2" stroke-width="0.8"/>
<path d="M561.4 370.9L564.6 374.1L561.4 377.3L558.2 374.1Z" fill="#fff" stroke="#a2a2a2" stroke-width="0.8"/>
<path d="M572.3 372.8L575.5 376.0L572.3 379.2L569.1 376.0Z" fill="#fff" stroke="#a2a2a2" stroke-width="0.8"/>
<path d="M616.3 387.7L619.5 390.9L616.3 394.1L613.1 390.9Z" fill="#fff" stroke="#a2a2a2" stroke-width="0.8"/>
<path d="M626.5 389.7L629.7 392.9L626.5 396.1L623.3 392.9Z" fill="#fff" stroke="#a2a2a2" stroke-width="0.8"/>
<path d="M636.1 392.1L639.3 395.3L636.1 398.5L632.9 395.3Z" fill="#fff" stroke="#a2a2a2" stroke-width="0.8"/>
<path d="M645.2 384.9L648.4 388.1L645.2 391.3L642.0 388.1Z" fill="#fff" stroke="#a2a2a2" stroke-width="0.8"/>
<path d="M654.9 392.6L658.1 395.8L654.9 399.0L651.7 395.8Z" fill="#fff" stroke="#a2a2a2" stroke-width="0.8"/>
<path d="M669.8 390.2L673.0 393.4L669.8 396.6L666.6 393.4Z" fill="#fff" stroke="#a2a2a2" stroke-width="0.8"/>
<path d="M678.5 387.7L681.7 390.9L678.5 394.1L675.3 390.9Z" fill="#fff" stroke="#a2a2a2" stroke-width="0.8"/>
<path d="M665.0 454.8L668.2 458.0L665.0 461.2L661.8 458.0Z" fill="#fff" stroke="#a2a2a2" stroke-width="0.8"/>
<path d="M615.8 388.0L619.0 391.2L615.8 394.4L612.6 391.2Z" fill="#fff" stroke="#a2a2a2" stroke-width="0.8"/>
<path d="M609.5 396.7L612.7 399.9L609.5 403.1L606.3 399.9Z" fill="#fff" stroke="#a2a2a2" stroke-width="0.8"/>
<path d="M611.0 396.9L614.2 400.1L611.0 403.3L607.8 400.1Z" fill="#fff" stroke="#a2a2a2" stroke-width="0.8"/>
<path d="M601.4 408.9L604.6 412.1L601.4 415.3L598.2 412.1Z" fill="#fff" stroke="#a2a2a2" stroke-width="0.8"/>
<path d="M592.3 440.2L595.5 443.4L592.3 446.6L589.1 443.4Z" fill="#fff" stroke="#a2a2a2" stroke-width="0.8"/>
<circle cx="48.0" cy="274.3" r="3.1" fill="#b0b0b0"/>
<circle cx="50.2" cy="274.8" r="3.1" fill="#b0b0b0"/>
<circle cx="47.6" cy="277.0" r="3.1" fill="#b0b0b0"/>
<circle cx="50.6" cy="277.5" r="3.1" fill="#b0b0b0"/>
<circle cx="47.8" cy="280.0" r="3.1" fill="#b0b0b0"/>
<circle cx="50.8" cy="280.5" r="3.1" fill="#b0b0b0"/>
<circle cx="48.0" cy="283.0" r="3.1" fill="#b0b0b0"/>
<circle cx="50.9" cy="283.5" r="3.1" fill="#b0b0b0"/>
<circle cx="47.9" cy="286.0" r="3.1" fill="#b0b0b0"/>
<circle cx="50.5" cy="286.5" r="3.1" fill="#b0b0b0"/>
<circle cx="47.6" cy="289.2" r="3.1" fill="#b0b0b0"/>
<circle cx="50.0" cy="289.4" r="3.1" fill="#b0b0b0"/>
<circle cx="70.6" cy="305.5" r="3.1" fill="#b0b0b0"/>
<circle cx="114.2" cy="310.7" r="3.1" fill="#b0b0b0"/>
<circle cx="118.5" cy="314.3" r="3.1" fill="#b0b0b0"/>
<circle cx="172.9" cy="330.8" r="3.1" fill="#b0b0b0"/>
<circle cx="186.2" cy="327.8" r="3.1" fill="#b0b0b0"/>
<circle cx="229.8" cy="334.9" r="3.1" fill="#b0b0b0"/>
<circle cx="229.4" cy="339.4" r="3.1" fill="#b0b0b0"/>
<circle cx="220.8" cy="341.9" r="3.1" fill="#b0b0b0"/>
<circle cx="220.2" cy="345.3" r="3.1" fill="#b0b0b0"/>
<circle cx="232.9" cy="346.7" r="3.1" fill="#b0b0b0"/>
<circle cx="248.9" cy="345.6" r="3.1" fill="#b0b0b0"/>
<circle cx="253.6" cy="350.5" r="3.1" fill="#b0b0b0"/>
<circle cx="259.7" cy="347.1" r="3.1" fill="#b0b0b0"/>
<circle cx="261.4" cy="351.9" r="3.1" fill="#b0b0b0"/>
<circle cx="267.8" cy="347.6" r="3.1" fill="#b0b0b0"/>
<circle cx="270.9" cy="352.8" r="3.1" fill="#b0b0b0"/>
<circle cx="265.0" cy="350.0" r="3.1" fill="#b0b0b0"/>
<circle cx="277.0" cy="347.1" r="3.1" fill="#b0b0b0"/>
<circle cx="274.5" cy="355.2" r="3.1" fill="#b0b0b0"/>
<circle cx="281.3" cy="365.4" r="3.1" fill="#b0b0b0"/>
<circle cx="285.6" cy="354.5" r="3.1" fill="#b0b0b0"/>
<circle cx="290.0" cy="351.9" r="3.1" fill="#b0b0b0"/>
<circle cx="290.2" cy="352.8" r="3.1" fill="#b0b0b0"/>
<circle cx="295.3" cy="348.5" r="3.1" fill="#b0b0b0"/>
<circle cx="298.2" cy="350.7" r="3.1" fill="#b0b0b0"/>
<circle cx="299.5" cy="348.4" r="3.1" fill="#b0b0b0"/>
<circle cx="285.1" cy="355.0" r="3.1" fill="#b0b0b0"/>
<circle cx="335.2" cy="355.8" r="3.1" fill="#b0b0b0"/>
<circle cx="335.2" cy="359.4" r="3.1" fill="#b0b0b0"/>
<circle cx="407.4" cy="354.3" r="3.1" fill="#b0b0b0"/>
<circle cx="416.3" cy="355.7" r="3.1" fill="#b0b0b0"/>
<circle cx="484.0" cy="357.4" r="3.1" fill="#b0b0b0"/>
<circle cx="613.1" cy="379.6" r="3.1" fill="#b0b0b0"/>
<circle cx="617.2" cy="387.1" r="3.1" fill="#b0b0b0"/>
<circle cx="578.8" cy="394.8" r="3.1" fill="#b0b0b0"/>
<circle cx="582.7" cy="395.6" r="3.1" fill="#b0b0b0"/>
<circle cx="600.4" cy="398.6" r="3.1" fill="#b0b0b0"/>
<circle cx="602.0" cy="407.4" r="3.1" fill="#b0b0b0"/>
<circle cx="623.2" cy="405.1" r="3.1" fill="#b0b0b0"/>
<circle cx="622.2" cy="411.6" r="3.1" fill="#b0b0b0"/>
<circle cx="606.6" cy="416.2" r="3.1" fill="#b0b0b0"/>
<circle cx="599.4" cy="420.4" r="3.1" fill="#b0b0b0"/>
<circle cx="622.7" cy="440.3" r="3.1" fill="#b0b0b0"/>
<circle cx="604.0" cy="460.0" r="3.1" fill="#b0b0b0"/>
<circle cx="564.7" cy="394.0" r="3.1" fill="#b0b0b0"/>
<circle cx="560.9" cy="399.2" r="3.1" fill="#b0b0b0"/>
<circle cx="566.1" cy="404.0" r="3.1" fill="#b0b0b0"/>
<circle cx="570.2" cy="408.9" r="3.1" fill="#b0b0b0"/>
<circle cx="564.0" cy="411.0" r="3.1" fill="#b0b0b0"/>
<circle cx="567.1" cy="408.5" r="3.1" fill="#b0b0b0"/>
<circle cx="589.0" cy="490.5" r="3.1" fill="#b0b0b0"/>
<circle cx="592.0" cy="491.5" r="3.1" fill="#b0b0b0"/>
<circle cx="594.5" cy="489.5" r="3.1" fill="#b0b0b0"/>
<circle cx="587.5" cy="492.5" r="3.1" fill="#b0b0b0"/>
<circle cx="591.0" cy="493.5" r="3.1" fill="#b0b0b0"/>
<circle cx="597.0" cy="470.0" r="3.1" fill="#b0b0b0"/>
<circle cx="597.5" cy="475.5" r="3.1" fill="#b0b0b0"/>
<circle cx="596.5" cy="481.0" r="3.1" fill="#b0b0b0"/>
<circle cx="595.5" cy="485.0" r="3.1" fill="#b0b0b0"/>
<circle cx="567.5" cy="418.0" r="3.1" fill="#b0b0b0"/>
<circle cx="568.5" cy="419.8" r="3.1" fill="#b0b0b0"/>
<circle cx="569.5" cy="421.5" r="3.1" fill="#b0b0b0"/>
<circle cx="570.5" cy="423.0" r="3.1" fill="#b0b0b0"/>
<circle cx="571.6" cy="424.5" r="3.1" fill="#b0b0b0"/>
<circle cx="572.4" cy="426.0" r="3.1" fill="#b0b0b0"/>
<circle cx="573.2" cy="427.6" r="3.1" fill="#b0b0b0"/>
<circle cx="573.9" cy="429.1" r="3.1" fill="#b0b0b0"/>
<circle cx="574.7" cy="430.6" r="3.1" fill="#b0b0b0"/>
<circle cx="576.9" cy="431.6" r="3.1" fill="#b0b0b0"/>
<circle cx="579.0" cy="432.5" r="3.1" fill="#b0b0b0"/>
<circle cx="580.5" cy="433.3" r="3.1" fill="#b0b0b0"/>
<circle cx="581.9" cy="434.1" r="3.1" fill="#b0b0b0"/>
<circle cx="583.4" cy="434.9" r="3.1" fill="#b0b0b0"/>
<circle cx="581.6" cy="435.9" r="3.1" fill="#b0b0b0"/>
<circle cx="579.8" cy="437.0" r="3.1" fill="#b0b0b0"/>
<circle cx="578.0" cy="438.0" r="3.1" fill="#b0b0b0"/>
<circle cx="577.2" cy="439.4" r="3.1" fill="#b0b0b0"/>
<circle cx="576.4" cy="440.8" r="3.1" fill="#b0b0b0"/>
<circle cx="575.5" cy="442.2" r="3.1" fill="#b0b0b0"/>
<circle cx="574.7" cy="443.6" r="3.1" fill="#b0b0b0"/>
<circle cx="576.4" cy="443.1" r="3.1" fill="#b0b0b0"/>
<circle cx="578.0" cy="442.5" r="3.1" fill="#b0b0b0"/>
<circle cx="579.6" cy="442.4" r="3.1" fill="#b0b0b0"/>
<circle cx="581.2" cy="442.3" r="3.1" fill="#b0b0b0"/>
<circle cx="582.8" cy="441.9" r="3.1" fill="#b0b0b0"/>
<circle cx="584.4" cy="441.4" r="3.1" fill="#b0b0b0"/>
<circle cx="586.0" cy="441.0" r="3.1" fill="#b0b0b0"/>
<circle cx="585.5" cy="443.2" r="3.1" fill="#b0b0b0"/>
<circle cx="585.0" cy="445.4" r="3.1" fill="#b0b0b0"/>
<circle cx="584.0" cy="447.2" r="3.1" fill="#b0b0b0"/>
<circle cx="583.0" cy="449.0" r="3.1" fill="#b0b0b0"/>
<circle cx="582.0" cy="450.4" r="3.1" fill="#b0b0b0"/>
<circle cx="581.0" cy="451.7" r="3.1" fill="#b0b0b0"/>
<circle cx="580.0" cy="453.1" r="3.1" fill="#b0b0b0"/>
<circle cx="581.7" cy="453.7" r="3.1" fill="#b0b0b0"/>
<circle cx="583.3" cy="454.2" r="3.1" fill="#b0b0b0"/>
<circle cx="585.0" cy="454.8" r="3.1" fill="#b0b0b0"/>
<circle cx="584.0" cy="456.4" r="3.1" fill="#b0b0b0"/>
<circle cx="583.0" cy="458.0" r="3.1" fill="#b0b0b0"/>
<circle cx="583.1" cy="459.8" r="3.1" fill="#b0b0b0"/>
<circle cx="583.2" cy="461.5" r="3.1" fill="#b0b0b0"/>
<circle cx="583.4" cy="463.2" r="3.1" fill="#b0b0b0"/>
<circle cx="583.5" cy="465.0" r="3.1" fill="#b0b0b0"/>
<circle cx="583.7" cy="467.0" r="3.1" fill="#b0b0b0"/>
<circle cx="583.8" cy="469.0" r="3.1" fill="#b0b0b0"/>
<circle cx="584.0" cy="471.0" r="3.1" fill="#b0b0b0"/>
<circle cx="584.2" cy="472.8" r="3.1" fill="#b0b0b0"/>
<circle cx="584.5" cy="474.5" r="3.1" fill="#b0b0b0"/>
<circle cx="584.8" cy="476.2" r="3.1" fill="#b0b0b0"/>
<circle cx="585.0" cy="478.0" r="3.1" fill="#b0b0b0"/>
<circle cx="585.0" cy="479.8" r="3.1" fill="#b0b0b0"/>
<circle cx="585.0" cy="481.5" r="3.1" fill="#b0b0b0"/>
<circle cx="585.0" cy="483.2" r="3.1" fill="#b0b0b0"/>
<circle cx="585.0" cy="485.0" r="3.1" fill="#b0b0b0"/>
<circle cx="585.5" cy="487.0" r="3.1" fill="#b0b0b0"/>
<circle cx="586.0" cy="489.0" r="3.1" fill="#b0b0b0"/>
<path d="M599.5 419.0 L603.0 416.5 L607.0 414.5 L611.0 412.0 L611.3 397.0 L612.5 393.5 L615.5 392.5 L617.6 395.0 L617.8 402.0 L617.3 408.0 L620.0 409.0 L624.0 410.5 L626.0 415.0 L626.0 421.0 L622.5 427.0 L617.8 430.0 L618.0 437.0 L616.6 444.0 L615.6 451.0 L615.5 460.0 L615.5 499.0 L612.5 502.5 L609.2 499.0 L608.5 456.0 L603.0 454.0 L594.5 453.0 L595.2 444.0 L595.9 437.0 L597.3 430.0 L596.9 427.0 L595.9 420.0 Z" fill="#b0b0b0" stroke="#b0b0b0" stroke-width="1" stroke-linejoin="round"/>
<circle cx="612.2" cy="458.0" r="3.1" fill="#b0b0b0"/>
<circle cx="612.6" cy="460.0" r="3.1" fill="#b0b0b0"/>
<circle cx="611.6" cy="462.0" r="3.1" fill="#b0b0b0"/>
<circle cx="612.8" cy="464.0" r="3.1" fill="#b0b0b0"/>
<circle cx="611.9" cy="466.0" r="3.1" fill="#b0b0b0"/>
<circle cx="613.0" cy="468.0" r="3.1" fill="#b0b0b0"/>
<circle cx="612.2" cy="470.0" r="3.1" fill="#b0b0b0"/>
<circle cx="613.2" cy="472.0" r="3.1" fill="#b0b0b0"/>
<circle cx="611.6" cy="474.0" r="3.1" fill="#b0b0b0"/>
<circle cx="612.4" cy="476.0" r="3.1" fill="#b0b0b0"/>
<circle cx="611.9" cy="478.0" r="3.1" fill="#b0b0b0"/>
<circle cx="612.6" cy="480.0" r="3.1" fill="#b0b0b0"/>
<circle cx="612.2" cy="482.0" r="3.1" fill="#b0b0b0"/>
<circle cx="612.8" cy="484.0" r="3.1" fill="#b0b0b0"/>
<circle cx="611.6" cy="486.0" r="3.1" fill="#b0b0b0"/>
<circle cx="613.0" cy="488.0" r="3.1" fill="#b0b0b0"/>
<circle cx="611.9" cy="490.0" r="3.1" fill="#b0b0b0"/>
<circle cx="613.2" cy="492.0" r="3.1" fill="#b0b0b0"/>
<circle cx="612.2" cy="494.0" r="3.1" fill="#b0b0b0"/>
<circle cx="612.4" cy="496.0" r="3.1" fill="#b0b0b0"/>
<circle cx="611.6" cy="498.0" r="3.1" fill="#b0b0b0"/>
<circle cx="612.6" cy="500.0" r="3.1" fill="#b0b0b0"/>
<circle cx="597.8" cy="422.0" r="3.1" fill="#b0b0b0"/>
<circle cx="597.8" cy="427.0" r="3.1" fill="#b0b0b0"/>
<circle cx="597.8" cy="432.0" r="3.1" fill="#b0b0b0"/>
<circle cx="597.8" cy="437.0" r="3.1" fill="#b0b0b0"/>
<circle cx="597.8" cy="442.0" r="3.1" fill="#b0b0b0"/>
<circle cx="597.8" cy="447.0" r="3.1" fill="#b0b0b0"/>
<circle cx="597.8" cy="452.0" r="3.1" fill="#b0b0b0"/>
<circle cx="77.3" cy="302.3" r="4.5" fill="#e0291d" stroke="#1c1412" stroke-width="0.8"/>
<circle cx="116.1" cy="318.5" r="4.5" fill="#e0291d" stroke="#1c1412" stroke-width="0.8"/>
<circle cx="154.9" cy="328.6" r="4.5" fill="#e0291d" stroke="#1c1412" stroke-width="0.8"/>
<circle cx="187.6" cy="349.9" r="4.5" fill="#e0291d" stroke="#1c1412" stroke-width="0.8"/>
<circle cx="191.5" cy="344.7" r="4.5" fill="#e0291d" stroke="#1c1412" stroke-width="0.8"/>
<circle cx="194.9" cy="371.4" r="4.5" fill="#e0291d" stroke="#1c1412" stroke-width="0.8"/>
<circle cx="198.8" cy="400.2" r="4.5" fill="#e0291d" stroke="#1c1412" stroke-width="0.8"/>
<circle cx="203.8" cy="423.1" r="4.5" fill="#e0291d" stroke="#1c1412" stroke-width="0.8"/>
<circle cx="219.8" cy="432.3" r="4.5" fill="#e0291d" stroke="#1c1412" stroke-width="0.8"/>
<circle cx="220.6" cy="433.2" r="4.5" fill="#e0291d" stroke="#1c1412" stroke-width="0.8"/>
<circle cx="207.6" cy="447.4" r="4.5" fill="#e0291d" stroke="#1c1412" stroke-width="0.8"/>
<circle cx="208.5" cy="459.1" r="4.5" fill="#e0291d" stroke="#1c1412" stroke-width="0.8"/>
<circle cx="209.9" cy="456.4" r="4.5" fill="#e0291d" stroke="#1c1412" stroke-width="0.8"/>
<circle cx="208.2" cy="472.4" r="4.5" fill="#e0291d" stroke="#1c1412" stroke-width="0.8"/>
<circle cx="214.0" cy="475.1" r="4.5" fill="#e0291d" stroke="#1c1412" stroke-width="0.8"/>
<circle cx="208.6" cy="484.5" r="4.5" fill="#e0291d" stroke="#1c1412" stroke-width="0.8"/>
<circle cx="211.7" cy="487.6" r="4.5" fill="#e0291d" stroke="#1c1412" stroke-width="0.8"/>
<circle cx="212.5" cy="483.7" r="4.5" fill="#e0291d" stroke="#1c1412" stroke-width="0.8"/>
<circle cx="213.6" cy="499.3" r="4.5" fill="#e0291d" stroke="#1c1412" stroke-width="0.8"/>
<circle cx="214.8" cy="495.8" r="4.5" fill="#e0291d" stroke="#1c1412" stroke-width="0.8"/>
<circle cx="216.8" cy="503.2" r="4.5" fill="#e0291d" stroke="#1c1412" stroke-width="0.8"/>
<circle cx="217.5" cy="492.7" r="4.5" fill="#e0291d" stroke="#1c1412" stroke-width="0.8"/>
<circle cx="219.1" cy="500.9" r="4.5" fill="#e0291d" stroke="#1c1412" stroke-width="0.8"/>
<circle cx="235.3" cy="340.1" r="4.5" fill="#e0291d" stroke="#1c1412" stroke-width="0.8"/>
<circle cx="220.8" cy="372.3" r="4.5" fill="#e0291d" stroke="#1c1412" stroke-width="0.8"/>
<circle cx="222.6" cy="367.8" r="4.5" fill="#e0291d" stroke="#1c1412" stroke-width="0.8"/>
<circle cx="227.7" cy="374.2" r="4.5" fill="#e0291d" stroke="#1c1412" stroke-width="0.8"/>
<circle cx="224.0" cy="364.6" r="4.5" fill="#e0291d" stroke="#1c1412" stroke-width="0.8"/>
<circle cx="231.6" cy="381.9" r="4.5" fill="#e0291d" stroke="#1c1412" stroke-width="0.8"/>
<circle cx="279.1" cy="358.3" r="4.5" fill="#e0291d" stroke="#1c1412" stroke-width="0.8"/>
<circle cx="419.4" cy="387.4" r="4.5" fill="#e0291d" stroke="#1c1412" stroke-width="0.8"/>
<circle cx="560.2" cy="390.2" r="4.5" fill="#e0291d" stroke="#1c1412" stroke-width="0.8"/>
<circle cx="567.7" cy="415.5" r="4.5" fill="#e0291d" stroke="#1c1412" stroke-width="0.8"/>
<circle cx="578.6" cy="427.8" r="4.5" fill="#e0291d" stroke="#1c1412" stroke-width="0.8"/>
<circle cx="573.6" cy="434.4" r="4.5" fill="#e0291d" stroke="#1c1412" stroke-width="0.8"/>
<circle cx="588.7" cy="448.9" r="4.5" fill="#e0291d" stroke="#1c1412" stroke-width="0.8"/>
<circle cx="581.2" cy="461.2" r="4.5" fill="#e0291d" stroke="#1c1412" stroke-width="0.8"/>
<circle cx="583.8" cy="460.0" r="4.5" fill="#e0291d" stroke="#1c1412" stroke-width="0.8"/>
<circle cx="587.3" cy="459.4" r="4.5" fill="#e0291d" stroke="#1c1412" stroke-width="0.8"/>
<circle cx="590.8" cy="463.4" r="4.5" fill="#e0291d" stroke="#1c1412" stroke-width="0.8"/>
<circle cx="592.6" cy="468.2" r="4.5" fill="#e0291d" stroke="#1c1412" stroke-width="0.8"/>
<circle cx="594.3" cy="460.6" r="4.5" fill="#e0291d" stroke="#1c1412" stroke-width="0.8"/>
<circle cx="597.5" cy="463.8" r="4.5" fill="#e0291d" stroke="#1c1412" stroke-width="0.8"/>
<circle cx="587.3" cy="479.6" r="4.5" fill="#e0291d" stroke="#1c1412" stroke-width="0.8"/>
<circle cx="591.2" cy="481.3" r="4.5" fill="#e0291d" stroke="#1c1412" stroke-width="0.8"/>
<circle cx="594.0" cy="475.2" r="4.5" fill="#e0291d" stroke="#1c1412" stroke-width="0.8"/>
<text x="47.5" y="554.6" font-size="13.4" text-anchor="middle" fill="#2a2a2a">0</text>
<text x="126.4" y="554.6" font-size="13.4" text-anchor="middle" fill="#2a2a2a">5</text>
<text x="205.2" y="554.6" font-size="13.4" text-anchor="middle" fill="#2a2a2a">10</text>
<text x="284.1" y="554.6" font-size="13.4" text-anchor="middle" fill="#2a2a2a">15</text>
<text x="363.0" y="554.6" font-size="13.4" text-anchor="middle" fill="#2a2a2a">20</text>
<text x="441.9" y="554.6" font-size="13.4" text-anchor="middle" fill="#2a2a2a">25</text>
<text x="520.8" y="554.6" font-size="13.4" text-anchor="middle" fill="#2a2a2a">30</text>
<text x="599.6" y="554.6" font-size="13.4" text-anchor="middle" fill="#2a2a2a">35</text>
<text x="678.5" y="554.6" font-size="13.4" text-anchor="middle" fill="#2a2a2a">40</text>
<text x="43.6" y="515.0" font-size="13.4" text-anchor="end" fill="#2a2a2a">0.2</text>
<text x="43.6" y="458.1" font-size="13.4" text-anchor="end" fill="#2a2a2a">0.4</text>
<text x="43.6" y="401.2" font-size="13.4" text-anchor="end" fill="#2a2a2a">0.6</text>
<text x="43.6" y="344.3" font-size="13.4" text-anchor="end" fill="#2a2a2a">0.8</text>
<text x="43.6" y="287.4" font-size="13.4" text-anchor="end" fill="#2a2a2a">1.0</text>
<text x="-0.4" y="265.8" font-size="22.5" font-weight="bold" fill="#111">(b)</text>
<text x="364.2" y="574.3" font-size="17.3" font-weight="bold" text-anchor="middle" fill="#111" textLength="181" lengthAdjust="spacingAndGlyphs">Sedimentary age (Ma)</text>
<text transform="translate(21,442.6) rotate(-90)" font-weight="bold" fill="#111"><tspan x="-0.6" y="-7.2" font-size="11">187</tspan><tspan x="20.1" y="0" font-size="17.5">O</tspan><tspan x="34.1" y="0" font-size="17.5">s</tspan><tspan x="43.3" y="0" font-size="17.5">/</tspan><tspan x="49.4" y="-7.2" font-size="11">188</tspan><tspan x="68.8" y="0" font-size="17.5">Os</tspan></text>
<rect x="143.6" y="262" width="125.9" height="51.5" fill="#fff" stroke="#484848" stroke-width="1"/>
<circle cx="153.6" cy="271.4" r="3" fill="#b0b0b0"/>
<path d="M153.6 284.6 L156.8 287.8 L153.6 291 L150.4 287.8 Z" fill="#fff" stroke="#a2a2a2" stroke-width="0.8"/>
<circle cx="153.9" cy="303.7" r="4.6" fill="#e0291d" stroke="#1c1412" stroke-width="0.8"/>
<text x="162.8" y="276.3" font-size="13.35" fill="#1a1a1a">Pelagic sediment</text>
<text x="162.8" y="292.0" font-size="13.35" fill="#1a1a1a">Fe-Mn crust</text>
<text x="162.8" y="308.5" font-size="13.35" fill="#1a1a1a">This study</text>
<g fill="#555" stroke="none"><path d="M286.4 459.9 Q298 457.6 309.4 454.0 L303.4 457.9 L337.9 457.9 L337.9 461.9 L303.4 461.9 L309.4 465.7 Q298 462.2 286.4 459.9 Z"/><path d="M552.4 459.9 Q541 457.6 529.5 454.0 L535.6 457.9 L501.1 457.9 L501.1 461.9 L535.6 461.9 L529.5 465.7 Q541 462.2 552.4 459.9 Z"/></g>
<g font-size="15" font-weight="bold" font-style="italic" text-anchor="middle" fill="#111" stroke="#fff" stroke-width="3.8" stroke-linejoin="round" paint-order="stroke"><text x="420.6" y="455.5" textLength="155.5" lengthAdjust="spacingAndGlyphs">Manganese layer and</text><text x="420.6" y="471.3" textLength="152.5" lengthAdjust="spacingAndGlyphs">sedimentation hiatus</text></g>
<path d="M424.3 392.3 L438.9 395.9 L434.8 396.6 L446.4 402.7 L445.0 405.1 L433.4 399.0 L432.1 402.0 Z" fill="#111"/>
<text x="449.3" y="409.7" font-size="15" font-weight="bold" font-style="italic" fill="#111" stroke="#fff" stroke-width="3.4" stroke-linejoin="round" paint-order="stroke" textLength="66.5" lengthAdjust="spacingAndGlyphs">24 (?) Ma</text>
</svg>
</body></html>
